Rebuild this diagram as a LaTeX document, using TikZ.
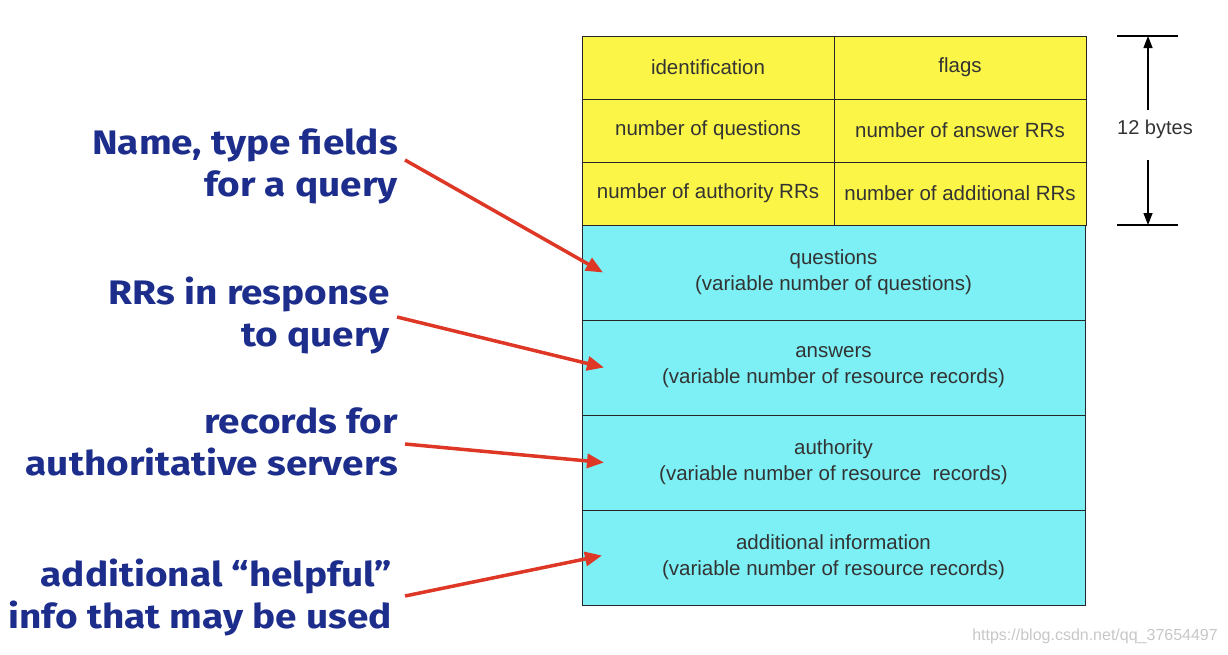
\documentclass[tikz,border=0pt]{standalone}
\usepackage{fontspec}
\setmainfont{Liberation Sans}
\newfontfamily\lblfont[FakeStretch=1.14]{Fira Sans}
\usetikzlibrary{arrows.meta}
\definecolor{hdryellow}{RGB}{250,245,70}
\definecolor{seccyan}{RGB}{125,240,245}
\definecolor{lblblue}{RGB}{28,45,140}
\definecolor{arrred}{RGB}{222,55,38}
\begin{document}
\begin{tikzpicture}[x=1pt,y=-1pt,
  cell/.style={draw=black!85, line width=1pt, inner sep=0pt, outer sep=0pt, anchor=north west,
     font=\fontsize{20.5}{26}\selectfont, align=center, text=black!80},
  hcell/.style={cell, fill=hdryellow, minimum width=252pt, minimum height=63pt},
  scell/.style={cell, fill=seccyan, minimum width=503pt, minimum height=95pt},
  lbl/.style={align=right, anchor=east, text=lblblue, inner sep=0pt,
     font=\lblfont\bfseries\fontsize{34}{42}\selectfont},
  callout/.style={draw=arrred, line width=3.5pt, -{Triangle[length=17pt,width=14pt]}},
  dim/.style={draw=black, line width=1.3pt},
  dimarrow/.style={dim, -{Triangle[length=12pt,width=9pt]}}
]
\useasboundingbox (0,0) rectangle (1228,654);
% header
\node[hcell] (id) at (582,36) {identification};
\node[hcell] (fl) at (834,36) {flags};
\node[hcell] (nq) at (582,99) {number of questions};
\node[hcell] (na) at (834,99) {number of answer RRs};
\node[hcell] (nauth) at (582,162) {number of authority RRs};
\node[hcell] (nadd) at (834,162) {number of additional RRs};
% sections
\node[scell] (q) at (582,225) {questions\\(variable number of questions)};
\node[scell] (ans) at (582,320) {answers\\(variable number of resource records)};
\node[scell] (auth) at (582,415) {authority\\(variable number of resource\ \ records)};
\node[scell] (add) at (582,510) {additional information\\(variable number of resource records)};
% 12 bytes
\coordinate (dtopL) at (1117,36);
\coordinate (dtopR) at (1178,36);
\coordinate (dbotL) at (1117,225);
\coordinate (dbotR) at (1178,225);
\draw[dim] (dtopL) -- (dtopR);
\draw[dim] (dbotL) -- (dbotR);
\node[font=\fontsize{20}{22}\selectfont, text=black!80, inner sep=2pt] (bytes) at (1155,129) {12 bytes};
\coordinate (up0) at (1148,110);
\coordinate (up1) at (1148,36);
\coordinate (dn0) at (1148,160);
\coordinate (dn1) at (1148,225);
\draw[dimarrow] (up0) -- (up1);
\draw[dimarrow] (dn0) -- (dn1);
% labels
\node[lbl] (l1) at (398,166) {Name, type fields\\for a query};
\node[lbl] (l2) at (390,315) {RRs in response\\to query};
\node[lbl] (l3) at (398,442) {records for\\authoritative servers};
\node[lbl] (l4) at (392,597) {additional “helpful”\\info that may be used};
% callouts
\coordinate (s1) at (405,160);
\coordinate (s2) at (397,317);
\coordinate (s3) at (405,444);
\coordinate (s4) at (405,596);
\draw[callout] (s1) -- ([xshift=21pt]q.west);
\draw[callout] (s2) -- ([xshift=22pt]ans.west);
\draw[callout] (s3) -- ([xshift=22pt]auth.west);
\draw[callout] (s4) -- ([xshift=20pt,yshift=2pt]add.west);
% watermark
\node[anchor=east, text=black!22, font=\fontsize{16}{18}\selectfont, inner sep=0pt] (wm) at (1218,636) {https://blog.csdn.net/qq\_37654497};
\end{tikzpicture}
\end{document}
